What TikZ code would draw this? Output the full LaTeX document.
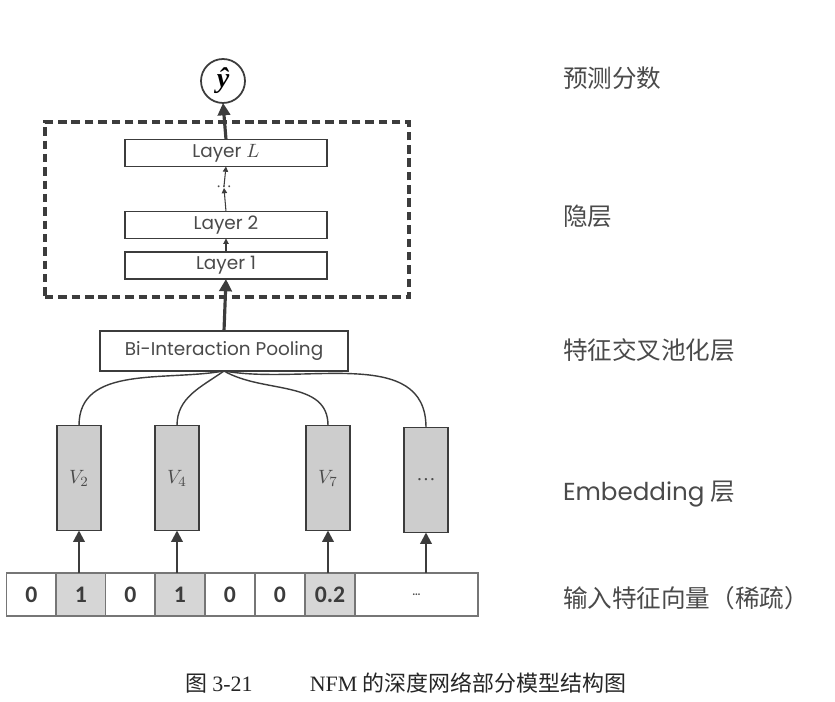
\documentclass[tikz,border=0pt]{standalone}
\usepackage{fontspec}
\setmainfont{Liberation Serif}
\newfontfamily\cjk{Noto Sans CJK SC}
\newfontfamily\geo{Poppins}
\newfontfamily\cellfont{Carlito}
\usetikzlibrary{arrows.meta}
\definecolor{linegray}{HTML}{3C3C3C}
\definecolor{boxgray}{HTML}{CDCDCD}
\definecolor{cellgray}{HTML}{D6D6D6}
\definecolor{textgray}{HTML}{4A4A4A}

\begin{document}
\begin{tikzpicture}[x=0.02cm, y=-0.02cm,
  every node/.style={inner sep=0pt, outer sep=0pt},
  layerbox/.style={draw=linegray, line width=1.1pt, minimum width=4.04cm, minimum height=0.54cm, font=\geo\fontsize{10.5}{12}\selectfont, text=textgray},
  embbox/.style={draw=linegray, line width=1.1pt, fill=boxgray, minimum width=0.88cm, minimum height=2.1cm, font=\fontsize{11}{13}\selectfont, text=textgray},
  incell/.style={draw=linegray!70, line width=0.6pt, minimum width=1cm, minimum height=0.86cm, font=\cellfont\bfseries\fontsize{13.5}{15}\selectfont, text=linegray},
  sidelbl/.style={anchor=west, font=\cjk\fontsize{14}{16}\selectfont, text=textgray},
  bigarr/.style={-{Triangle[length=7pt,width=7pt]}, line width=1.8pt, draw=linegray},
  smallarr/.style={-{Triangle[length=3pt,width=3pt]}, line width=0.6pt, draw=linegray},
  inarr/.style={-{Triangle[length=6.5pt,width=6.5pt]}, line width=1.2pt, draw=linegray},
  joincurve/.style={line width=0.8pt, draw=linegray}]
  \useasboundingbox (0,0) rectangle (835,702);
  \fill[white] (0,0) rectangle (835,702);
  % Output
  \node[draw=linegray, line width=1pt, circle, minimum size=0.88cm, font=\bfseries\itshape\fontsize{16}{18}\selectfont] (yhat) at (223,81) {ŷ};
  % Hidden layers
  \node[draw=linegray, line width=2pt, dash pattern=on 4.8pt off 2.8pt, minimum width=7.28cm, minimum height=3.5cm] (hid) at (227,209.5) {};
  \node[layerbox] (layL) at (226,153) {Layer $L$};
  \node[text=textgray, font=\fontsize{9}{10}\selectfont] (ldots) at (224,187) {\dots};
  \node[layerbox] (lay2) at (226,225) {Layer 2};
  \node[layerbox] (lay1) at (226,265.5) {Layer 1};
  \draw[smallarr] (lay1.north) -- (lay2.south);
  \draw[smallarr] (lay2.north) -- (ldots.south);
  \draw[smallarr] (ldots.north) -- (layL.south);
  \draw[bigarr] (layL.north) -- (yhat.south);
  % Pooling
  \node[layerbox, minimum width=4.96cm, minimum height=0.8cm, font=\geo\fontsize{10.5}{12}\selectfont] (bip) at (224,351) {Bi-Interaction Pooling};
  \draw[bigarr] (bip.north) -- (lay1.south);
  % Embedding vectors
  \foreach \n/\xc/\lbl in {2/79/$V_2$, 4/177/$V_4$, 7/328/$V_7$}
    \node[embbox] (v\n) at (\xc,478) {\lbl};
  \node[embbox] (vd) at (426,480) {\dots};
  \draw[joincurve] (v2.north) to[out=90, in=190] (bip.south);
  \draw[joincurve] (v4.north) to[out=90, in=215] (bip.south);
  \draw[joincurve] (v7.north) to[out=90, in=-30] (bip.south);
  \draw[joincurve] (vd.north) to[out=90, in=-10] (bip.south);
  % Sparse input
  \foreach \i/\xc/\v/\f in {1/31.5/0/white, 2/81/1/cellgray, 3/130.5/0/white, 4/180/1/cellgray, 5/230/0/white, 6/280/0/white, 7/330/0.2/cellgray}
    \node[incell, fill=\f] (c\i) at (\xc,594.5) {\v};
  \node[incell, minimum width=2.46cm, font=\geo\fontsize{8}{10}\selectfont, text=textgray] (c8) at (416.5,594.5) {\dots};
  \foreach \n in {2,4,7}
    \draw[inarr] (c\n.north -| v\n.south) -- (v\n.south);
  \draw[inarr] (c8.north -| vd.south) -- (vd.south);
  % Side labels
  \node[sidelbl] (lout) at (563,78) {预测分数};
  \node[sidelbl] (lhid) at (563,216) {隐层};
  \node[sidelbl] (lpool) at (563,350) {特征交叉池化层};
  \node[sidelbl] (lemb) at (563,494) {{\geo\fontsize{14}{16}\selectfont Embedding} 层};
  \node[sidelbl] (lin) at (563,598) {输入特征向量（稀疏）};
  % Caption
  \node[anchor=west, font=\fontsize{12.5}{14}\selectfont, text=black!85] (cap) at (185,683) {{\cjk 图} 3-21\hspace{2.6em}NFM {\cjk 的深度网络部分模型结构图}};
\end{tikzpicture}
\end{document}
